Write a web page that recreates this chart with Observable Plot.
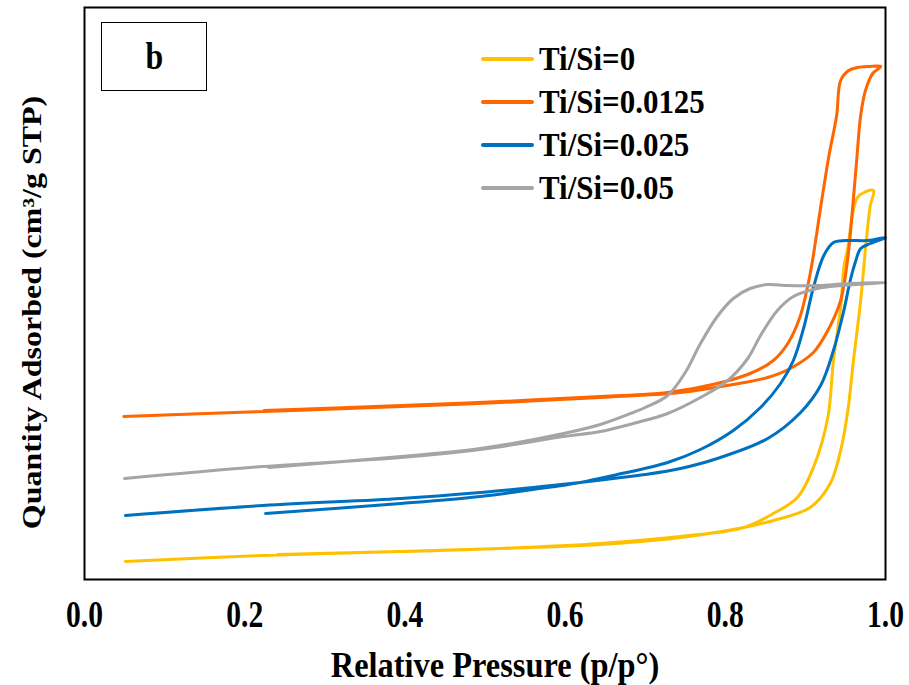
<!DOCTYPE html>
<html>
<head>
<meta charset="utf-8">
<script src="https://cdn.jsdelivr.net/npm/d3@7"></script>
<script src="https://cdn.jsdelivr.net/npm/@observablehq/plot@0.6"></script>
<style>
  body { margin: 0; background: #fff; }
  #chart { position: relative; width: 909px; height: 685px; font-family: "Liberation Serif", serif; font-weight: bold; color: #000; }
  #chart svg { position: absolute; left: 0; top: 0; }
  #chart svg text { font-family: "Liberation Serif", serif !important; font-weight: bold; fill: #000; }
  .tag { position: absolute; left: 101px; top: 22px; width: 106px; height: 69px; border: 1.5px solid #000; box-sizing: border-box;
         display: flex; align-items: center; justify-content: center; font-size: 37px; background: #fff; }
  .tag span { display: inline-block; transform: scaleX(0.86); }
  .legend { position: absolute; left: 481px; top: 37px; font-family: "Liberation Serif", serif; }
  .legend .row { display: flex; align-items: center; height: 43px; font-size: 34px; line-height: 1; white-space: nowrap; }
  .legend .swatch { width: 53px; height: 4px; border-radius: 2px; margin-right: 5px; flex: none; }
  .legend .name { display: inline-block; transform: scaleX(0.91); transform-origin: left center; }
</style>
</head>
<body>
<div id="chart"></div>
<script>
// N2 adsorption–desorption isotherms: each sample traced adsorption branch first, then desorption.
const samples = ["Ti/Si=0", "Ti/Si=0.0125", "Ti/Si=0.025", "Ti/Si=0.05"];
const colors = ["#FFC000", "#FF6600", "#0070C0", "#A5A5A5"];
const xTicks = [0, 0.2, 0.4, 0.6, 0.8, 1.0];

// Ti/Si = 0
const ti0Pressure = [0.051, 0.223, 0.395, 0.519, 0.644, 0.744, 0.823, 0.860, 0.906, 0.931, 0.944, 0.953, 0.960, 0.969, 0.976, 0.981, 0.985,
                     0.973, 0.965, 0.959, 0.953, 0.948, 0.944, 0.935, 0.928, 0.910, 0.890, 0.860, 0.823, 0.744, 0.644, 0.519, 0.395, 0.241];
const ti0Quantity = [18, 24, 28, 31, 35, 42, 52, 59, 72, 96, 129, 169, 219, 279, 339, 374, 389,
                     387, 382, 366, 332, 312, 272, 219, 162, 112, 82, 66, 52, 43, 36, 31, 28, 25];

// Ti/Si = 0.0125
const ti0125Pressure = [0.049, 0.223, 0.395, 0.519, 0.644, 0.744, 0.810, 0.853, 0.881, 0.910, 0.928, 0.944, 0.953, 0.959, 0.964, 0.969, 0.975, 0.984, 0.994,
                        0.979, 0.965, 0.954, 0.944, 0.939, 0.929, 0.919, 0.906, 0.893, 0.878, 0.860, 0.831, 0.790, 0.728, 0.644, 0.519, 0.395, 0.224];
const ti0125Quantity = [163, 168, 173, 177, 182, 187, 195, 202, 211, 227, 249, 279, 322, 372, 419, 464, 489, 506, 513,
                        513, 512, 509, 499, 464, 422, 372, 306, 262, 236, 219, 206, 196, 187, 183, 178, 174, 169];

// Ti/Si = 0.025
const ti025Pressure = [0.051, 0.223, 0.395, 0.494, 0.560, 0.619, 0.660, 0.700, 0.744, 0.790, 0.853, 0.894, 0.919, 0.935, 0.948, 0.956, 0.963, 0.969, 0.981, 1.000,
                       0.978, 0.950, 0.935, 0.923, 0.910, 0.898, 0.885, 0.869, 0.844, 0.810, 0.769, 0.728, 0.660, 0.619, 0.560, 0.494, 0.395, 0.226];
const ti025Quantity = [64, 74, 81, 87, 92, 97, 101, 105, 111, 121, 141, 167, 194, 229, 269, 299, 319, 331, 336, 342,
                       339, 339, 337, 324, 292, 252, 219, 196, 172, 149, 130, 117, 104, 97, 90, 83, 76, 66];

// Ti/Si = 0.05
const ti05Pressure = [0.050, 0.223, 0.395, 0.494, 0.598, 0.644, 0.685, 0.728, 0.769, 0.803, 0.828, 0.844, 0.865, 0.885, 0.915, 0.944, 1.000,
                      0.956, 0.915, 0.878, 0.853, 0.831, 0.810, 0.790, 0.769, 0.750, 0.728, 0.700, 0.685, 0.644, 0.598, 0.494, 0.395, 0.230];
const ti05Quantity = [101, 113, 122, 130, 143, 148, 156, 166, 182, 199, 221, 244, 269, 283, 291, 294, 297,
                      296, 294, 294, 295, 291, 281, 263, 236, 207, 184, 172, 167, 155, 146, 131, 123, 112];

const series = [
  [ti0Pressure, ti0Quantity],
  [ti0125Pressure, ti0125Quantity],
  [ti025Pressure, ti025Quantity],
  [ti05Pressure, ti05Quantity]
];
const rows = series.flatMap(([ps, qs], i) => ps.map((p, j) => ({sample: samples[i], p, q: qs[j]})));

const chart = Plot.plot({
  width: 909,
  height: 685,
  marginLeft: 84,
  marginRight: 24,
  marginTop: 7,
  marginBottom: 106,
  style: {fontFamily: "Liberation Serif, serif", fontWeight: "bold", color: "#000", background: "#fff", overflow: "visible"},
  x: {domain: [0, 1]},
  y: {domain: [0, 572]},
  color: {domain: samples, range: colors},
  marks: [
    Plot.axisX({ticks: xTicks, tickSize: 0, tickPadding: 21, tickFormat: d3.format(".1f"),
                label: "Relative Pressure (p/p°)", labelAnchor: "center", labelArrow: "none", labelOffset: 97}),
    Plot.axisY({ticks: [], label: "Quantity Adsorbed (cm³/g STP)", labelAnchor: "center", labelArrow: "none", labelOffset: 63}),
    Plot.line(rows, {x: "p", y: "q", z: "sample", stroke: "sample", strokeWidth: 3, curve: "catmull-rom", strokeLinecap: "round", strokeLinejoin: "round"}),
    Plot.frame({stroke: "#000", strokeWidth: 2})
  ]
});

const root = document.getElementById("chart");
root.appendChild(chart);

// Narrow, tall serif lettering for the axis texts.
function reshape(nodes, size, sx, sy, tx, ty) {
  nodes.each(function() {
    this.style.fontSize = size + "px";
    let t = this.getAttribute("transform");
    if (!t) {
      const x = +this.getAttribute("x") || 0, y = +this.getAttribute("y") || 0;
      this.removeAttribute("x");
      this.removeAttribute("y");
      t = `translate(${x},${y})`;
    }
    this.setAttribute("transform", `translate(${tx},${ty}) ${t} scale(${sx},${sy})`);
  });
}
const svg = d3.select(chart);
reshape(svg.selectAll("g[aria-label='x-axis tick label'] text"), 37, 0.8, 1, 0, 0);
reshape(svg.selectAll("g[aria-label='x-axis label'] text"), 36, 0.9, 1, 10, 0);
reshape(svg.selectAll("g[aria-label='y-axis label'] text"), 32, 1, 0.85, 0, 19);

// sample tag
const tag = document.createElement("div");
tag.className = "tag";
const tagText = document.createElement("span");
tagText.textContent = "b";
tag.appendChild(tagText);
root.appendChild(tag);

// legend
const legend = document.createElement("div");
legend.className = "legend";
samples.forEach((s, i) => {
  const row = document.createElement("div");
  row.className = "row";
  const sw = document.createElement("span");
  sw.className = "swatch";
  sw.style.background = colors[i];
  const label = document.createElement("span");
  label.className = "name";
  label.textContent = s;
  row.append(sw, label);
  legend.appendChild(row);
});
root.appendChild(legend);
</script>
</body>
</html>
